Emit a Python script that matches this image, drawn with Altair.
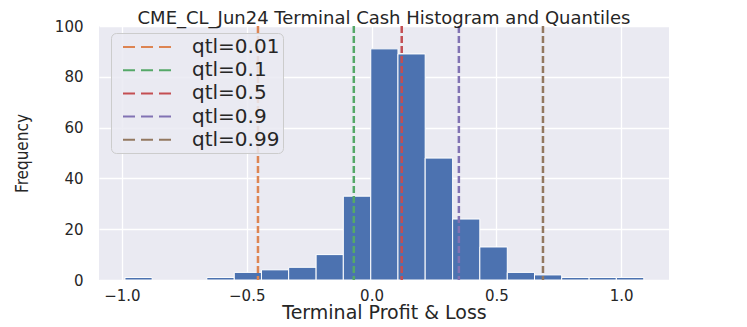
import altair as alt
import pandas as pd

# Histogram bins (left edges, right edges) and counts
bin_left = [-0.988, -0.879, -0.769, -0.660, -0.550, -0.441, -0.332, -0.222, -0.113,
            -0.003, 0.106, 0.215, 0.325, 0.434, 0.544, 0.653, 0.762, 0.872, 0.981]
bin_right = bin_left[1:] + [1.091]
counts = [1, 0, 0, 1, 3, 4, 5, 10, 33, 91, 89, 48, 24, 13, 3, 2, 1, 1, 1]

# Quantile lines
qtl_labels = ["qtl=0.01", "qtl=0.1", "qtl=0.5", "qtl=0.9", "qtl=0.99"]
qtl_values = [-0.455, -0.071, 0.121, 0.350, 0.687]
qtl_colors = ["#dd8452", "#55a868", "#c44e52", "#8172b3", "#937860"]

x_ticks = [-1.0, -0.5, 0.0, 0.5, 1.0]
y_ticks = [0, 20, 40, 60, 80, 100]

hist = pd.DataFrame({"lo": bin_left, "hi": bin_right, "freq": counts})
qdf = pd.DataFrame({"label": qtl_labels, "value": qtl_values})

FONT = "DejaVu Sans"
TXT = "#262626"

x_scale = alt.Scale(domain=[-1.092, 1.192], nice=False, zero=False)
y_scale = alt.Scale(domain=[0, 100], nice=False)

bars = alt.Chart(hist).transform_filter("datum.freq > 0").mark_bar(
    color="#4c72b0", stroke="white", strokeWidth=1
).encode(
    x=alt.X("lo:Q", scale=x_scale,
            axis=alt.Axis(values=x_ticks, format=".1f", title="Terminal Profit & Loss",
                          labelFontSize=15, labelPadding=8,
                          titleFontSize=19, titleX=285, titleY=32,
                          titleBaseline="middle", titleAlign="center")),
    x2="hi:Q",
    y=alt.Y("freq:Q", scale=y_scale,
            axis=alt.Axis(values=y_ticks, format="d", title="Frequency",
                          labelFontSize=15, labelPadding=16,
                          titleFont="DejaVu Sans Condensed, DejaVu Sans",
                          titleFontSize=17, titleX=-77, titleY=127,
                          titleBaseline="middle", titleAlign="center")),
    y2=alt.datum(0),
)

rules = alt.Chart(qdf).mark_rule(strokeDash=[7, 3], strokeWidth=2.5).encode(
    x=alt.X("value:Q", scale=x_scale),
    color=alt.Color("label:N",
                    scale=alt.Scale(domain=qtl_labels, range=qtl_colors),
                    legend=alt.Legend(
                        title=None, orient="none", legendX=12, legendY=7,
                        symbolType="M-2.5,0H2.5", symbolSize=400, symbolStrokeWidth=2,
                        symbolDash=[12, 6], symbolOffset=23,
                        labelFont=FONT, labelFontSize=20, labelColor=TXT,
                        labelOffset=33, padding=3, rowPadding=2.2,
                        fillColor="rgba(234,234,242,0.85)", strokeColor="#cccccc",
                        cornerRadius=5)),
)

chart = alt.layer(bars, rules).properties(
    width=570, height=254,
    padding={"left": 91, "top": 18, "right": 70, "bottom": 39},
    autosize=alt.AutoSizeParams(type="none"),
    title=alt.TitleParams("CME_CL_Jun24 Terminal Cash Histogram and Quantiles",
                          font=FONT, fontSize=18, fontWeight="normal", color=TXT,
                          anchor="middle", frame="group", offset=0,
                          baseline="alphabetic", dx=0, dy=23),
).configure_view(
    fill="#eaeaf2", strokeWidth=0
).configure_axis(
    grid=True, gridColor="white", gridWidth=1.3, domain=False, ticks=False,
    labelFont=FONT, labelColor=TXT, titleFont=FONT, titleColor=TXT,
    titleFontWeight="normal"
)

chart.save("out.html", embed_options={"renderer": "svg", "actions": False})
